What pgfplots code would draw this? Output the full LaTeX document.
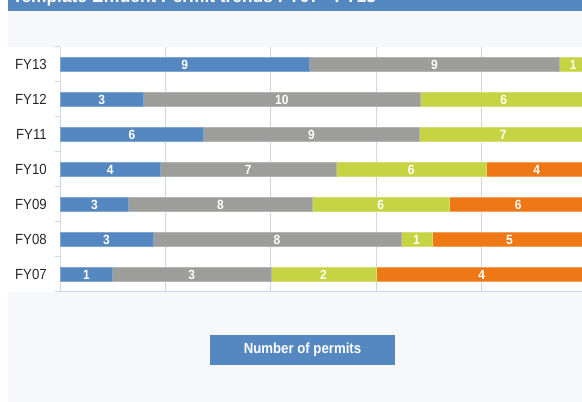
\documentclass[border=0pt]{standalone}
\usepackage{pgfplots}
\pgfplotsset{compat=1.18}
\usepackage{pgfplotstable}
\usepackage{fontspec}
\setmainfont{Liberation Sans}
\newfontfamily\cond[FakeStretch=0.9]{Liberation Sans}
\definecolor{cblue}{HTML}{5588C0}
\definecolor{cgrey}{HTML}{9D9D9B}
\definecolor{cgreen}{HTML}{C6D444}
\definecolor{corange}{HTML}{EE7716}
\definecolor{panel}{HTML}{F7F8FC}
\definecolor{gridc}{HTML}{C9D8EE}

% idx: 0=FY07 ... 6=FY13 ; a=blue, b=grey, c=green, d=orange
\pgfplotstableread{
idx a b c d
0 1 3 2 4
1 3 8 1 5
2 3 8 6 6
3 4 7 6 4
4 6 9 7 0
5 3 10 6 0
6 9 9 1 0
}\permits

\newcommand{\tot}{(\thisrow{a}+\thisrow{b}+\thisrow{c}+\thisrow{d})}

\begin{document}
\begin{tikzpicture}[x=0.75pt,y=0.75pt]
\useasboundingbox (0,0) rectangle (582,-402);
\clip (0,0) rectangle (582,-402);
\fill[white] (0,0) rectangle (582,-402);
\fill[panel] (8,-11) rectangle (582,-402);
\fill[cblue] (8,0) rectangle (582,-11);
\node[anchor=base west, text=white, inner sep=0pt, font=\bfseries\fontsize{13}{15}\selectfont] at (12,-2.5) {Template Effluent Permit trends FY07 - FY13};
\fill[white] (8,-47) rectangle (582,-292);
\fill[cblue] (210,-335) rectangle (395,-365);
\node[text=white, font=\cond\bfseries\fontsize{11}{12}\selectfont] at (302.5,-350) {Number of permits};

\begin{axis}[
  at={(45pt,-219pt)}, anchor=south west,
  scale only axis, width=395.25pt, height=183.75pt,
  xbar stacked, bar width=10.5pt,
  xmin=0, xmax=100, ymin=-0.5, ymax=6.5,
  axis x line*=bottom, axis y line*=left,
  axis line style={gridc, line width=0.75pt, -},
  xtick={0,20,...,100}, xticklabels={},
  xmajorgrids, major grid style={gridc, line width=0.75pt},
  ytick={0,...,6},
  yticklabels={FY07,FY08,FY09,FY10,FY11,FY12,FY13},
  minor ytick={-0.5,0.5,...,6.5},
  tick align=outside,
  major tick length=0pt, minor tick length=3.75pt,
  minor tick style={gridc, line width=0.75pt},
  yticklabel style={anchor=east, inner sep=0pt, xshift=-9.75pt, text=black!85, font=\cond\fontsize{11}{12}\selectfont},
  clip=false,
]
\addplot[fill=cblue, draw=cblue!75!white, line width=0.4pt] table[x expr={\thisrow{a}/\tot*100}, y=idx] {\permits};
\addplot[fill=cgrey, draw=cgrey!75!white, line width=0.4pt] table[x expr={\thisrow{b}/\tot*100}, y=idx] {\permits};
\addplot[fill=cgreen, draw=cgreen!75!white, line width=0.4pt] table[x expr={\thisrow{c}/\tot*100}, y=idx] {\permits};
\addplot[fill=corange, draw=corange!70!white, line width=0.4pt] table[x expr={\thisrow{d}/\tot*100}, y=idx] {\permits};
\end{axis}

\begin{axis}[
  at={(45pt,-219pt)}, anchor=south west,
  scale only axis, width=395.25pt, height=183.75pt,
  xmin=0, xmax=100, ymin=-0.5, ymax=6.5,
  hide axis, clip=false,
  /pgf/number format/assume math mode=true,
  every node near coord/.append style={anchor=center, text=white, inner sep=0pt, font=\cond\bfseries\fontsize{10}{11}\selectfont},
]
\addplot[draw=none, mark=none, nodes near coords, point meta=explicit]
  table[x expr={(\thisrow{a}/2)/\tot*100}, y=idx, meta=a] {\permits};
\addplot[draw=none, mark=none, nodes near coords, point meta=explicit]
  table[x expr={(\thisrow{a}+\thisrow{b}/2)/\tot*100}, y=idx, meta=b] {\permits};
\addplot[draw=none, mark=none, nodes near coords, point meta=explicit]
  table[x expr={(\thisrow{a}+\thisrow{b}+\thisrow{c}/2)/\tot*100}, y=idx, meta=c] {\permits};
\addplot[draw=none, mark=none, nodes near coords, point meta=explicit, skip coords between index={4}{7}]
  table[x expr={(\thisrow{a}+\thisrow{b}+\thisrow{c}+\thisrow{d}/2)/\tot*100}, y=idx, meta=d] {\permits};
\end{axis}
\end{tikzpicture}
\end{document}
